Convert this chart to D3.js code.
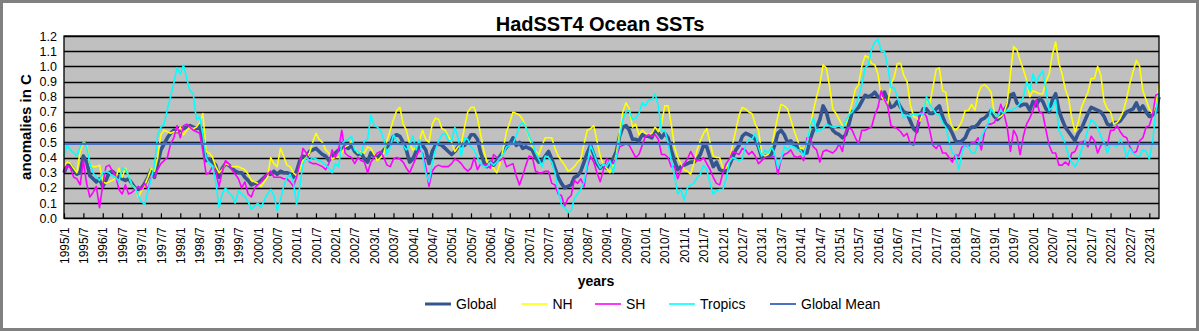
<!DOCTYPE html>
<html><head><meta charset="utf-8">
<script src="https://cdn.jsdelivr.net/npm/d3@7"></script>
<style>
body{margin:0;background:#fff;}
svg{display:block;font-family:"Liberation Sans",Arial,sans-serif;}
</style>
</head><body>
<svg id="c" width="1199" height="331"></svg>
<script>
// ---------- DATA ----------
const title = "HadSST4 Ocean SSTs";
const startYear = 1995;
const yTicks = [0.0,0.1,0.2,0.3,0.4,0.5,0.6,0.7,0.8,0.9,1.0,1.1,1.2];
const globalMean = 0.49;

const globalSST = [
0.30,0.35,0.35,0.32,0.29,0.30,0.41,0.37,0.28,0.26, 0.24,0.26,0.21,0.25,0.30,0.31,0.29,0.27,0.26,0.25,
0.26,0.23,0.20,0.19,0.20,0.23,0.27,0.32,0.27,0.36, 0.45,0.49,0.53,0.56,0.58,0.57,0.58,0.59,0.60,0.61,
0.60,0.59,0.61,
0.52,0.38,0.39,0.37,0.35,0.27,0.33,0.36,0.35,0.33, 0.31,0.30,0.30,0.27,0.25,0.22,0.23,0.23,0.25,0.27,
0.29,0.29,0.31,0.29,0.31,0.30,0.30,0.29,0.27,0.31, 0.38,0.41,0.40,0.44,0.45,0.46,0.44,0.42,0.41,0.38,
0.41,0.43,0.45,
0.46,0.47,0.46,0.48,0.44,0.42,0.43,0.39,0.37,0.43, 0.41,0.40,0.42,0.45,0.47,0.49,0.54,0.55,0.54,0.50,
0.45,0.37,0.39,0.44,0.47,0.48,0.45,0.36,0.44,0.48, 0.49,0.48,0.46,0.44,0.42,0.44,0.47,0.48,0.48,0.51,
0.55,
0.55,0.52,0.43,0.37,0.34,0.37,0.35,0.38,0.41,0.44, 0.47,0.49,0.53,0.48,0.50,0.46,0.47,0.46,0.45,0.40,
0.37,0.38,0.41,0.44,0.39,0.33,0.27,0.23,0.20,0.21, 0.22,0.27,0.28,0.31,0.37,0.43,0.48,0.42,0.36,0.33,
0.35,0.33,0.37,
0.39,0.44,0.54,0.60,0.61,0.58,0.52,0.52,0.51,0.55, 0.54,0.54,0.53,0.59,0.56,0.53,0.56,0.53,0.45,0.38,
0.32,0.34,0.35,0.36,0.37,0.37,0.39,0.42,0.48,0.47, 0.40,0.34,0.37,0.32,0.31,0.31,0.35,0.40,0.45,0.48,
0.54,0.56,
0.55,0.54,0.52,0.47,0.40,0.41,0.41,0.42,0.48,0.56, 0.58,0.55,0.50,0.51,0.48,0.48,0.45,0.43,0.43,0.52,
0.58,0.60,0.65,0.74,0.70,0.62,0.58,0.56,0.55,0.53, 0.55,0.62,0.70,0.71,0.73,0.77,0.81,0.80,0.81,0.83,
0.80,0.79,0.83,
0.78,0.73,0.74,0.77,0.73,0.70,0.69,0.64,0.59,0.57, 0.67,0.72,0.72,0.69,0.69,0.72,0.74,0.67,0.62,0.60,
0.56,0.51,0.50,0.51,0.53,0.58,0.60,0.60,0.62,0.65, 0.66,0.68,0.71,0.67,0.65,0.67,0.71,0.74,0.81,0.82,
0.76,0.74,
0.75,0.75,0.71,0.77,0.74,0.79,0.77,0.72,0.70,0.78, 0.82,0.71,0.65,0.60,0.57,0.54,0.51,0.56,0.59,0.64,
0.69,0.73,0.72,0.71,0.70,0.67,0.62,0.61,0.63,0.63, 0.64,0.67,0.70,0.71,0.72,0.76,0.71,0.74,0.70,0.67,
0.68,0.70,0.80
];

const nh = [
0.34,0.37,0.36,0.33,0.30,0.44,0.50,0.49,0.35,0.34, 0.34,0.35,0.24,0.23,0.24,0.25,0.26,0.33,0.27,0.33,
0.28,0.22,0.20,0.14,0.18,0.22,0.27,0.33,0.31,0.40, 0.55,0.58,0.57,0.56,0.57,0.57,0.60,0.55,0.58,0.60,
0.59,0.60,0.63,
0.69,0.44,0.43,0.40,0.34,0.30,0.32,0.36,0.35,0.34, 0.34,0.34,0.33,0.32,0.29,0.25,0.24,0.23,0.21,0.24,
0.27,0.40,0.36,0.34,0.46,0.41,0.35,0.34,0.30,0.28, 0.32,0.38,0.40,0.43,0.50,0.56,0.52,0.50,0.45,0.43,
0.39,0.40,0.40,
0.43,0.47,0.48,0.51,0.46,0.43,0.44,0.43,0.47,0.46, 0.42,0.38,0.40,0.43,0.51,0.58,0.65,0.71,0.73,0.62,
0.58,0.49,0.45,0.47,0.51,0.58,0.52,0.50,0.62,0.66, 0.65,0.59,0.58,0.54,0.50,0.44,0.47,0.49,0.60,0.70,
0.73,
0.73,0.66,0.55,0.44,0.37,0.34,0.33,0.30,0.36,0.46, 0.57,0.63,0.70,0.69,0.68,0.65,0.60,0.53,0.47,0.44,
0.42,0.48,0.53,0.53,0.53,0.46,0.41,0.38,0.35,0.31, 0.32,0.34,0.37,0.39,0.49,0.58,0.59,0.61,0.51,0.41,
0.35,0.33,0.30,
0.35,0.42,0.56,0.70,0.76,0.72,0.60,0.62,0.55,0.58, 0.56,0.55,0.56,0.60,0.57,0.62,0.74,0.74,0.62,0.47,
0.40,0.36,0.32,0.31,0.29,0.36,0.45,0.51,0.56,0.59, 0.50,0.41,0.40,0.40,0.33,0.33,0.37,0.49,0.58,0.68,
0.73,0.72,
0.70,0.69,0.62,0.58,0.43,0.41,0.42,0.47,0.57,0.67, 0.75,0.74,0.72,0.65,0.58,0.52,0.46,0.46,0.49,0.60,
0.71,0.80,0.88,1.01,0.99,0.87,0.72,0.69,0.65,0.61, 0.62,0.68,0.76,0.85,0.88,1.00,1.07,1.06,1.02,1.01,
0.95,0.80,0.78,
0.75,0.88,0.93,1.02,1.02,0.94,0.90,0.75,0.67,0.66, 0.64,0.70,0.78,0.75,0.86,0.98,0.99,0.84,0.83,0.67,
0.60,0.58,0.60,0.64,0.71,0.71,0.75,0.71,0.82,0.87, 0.88,0.86,0.83,0.69,0.66,0.67,0.69,0.76,0.95,1.13,
1.11,1.04,
0.98,0.91,0.80,0.84,0.83,0.82,0.82,0.90,0.95,1.08, 1.16,1.02,0.95,0.85,0.79,0.66,0.57,0.63,0.73,0.78,
0.83,0.92,0.92,1.00,0.94,0.77,0.72,0.70,0.62,0.63, 0.66,0.71,0.79,0.89,0.97,1.04,1.00,0.84,0.78,0.72,
0.69,0.75,0.88
];

const sh = [
0.30,0.35,0.33,0.27,0.26,0.22,0.38,0.23,0.14,0.17, 0.21,0.07,0.22,0.34,0.35,0.31,0.28,0.19,0.16,0.22,
0.16,0.17,0.19,0.21,0.19,0.23,0.19,0.27,0.27,0.32, 0.36,0.38,0.40,0.49,0.53,0.61,0.53,0.61,0.62,0.60,
0.58,0.57,0.56,
0.44,0.29,0.30,0.34,0.30,0.21,0.31,0.38,0.36,0.32, 0.29,0.26,0.20,0.24,0.16,0.14,0.20,0.22,0.24,0.27,
0.29,0.31,0.27,0.27,0.27,0.26,0.26,0.24,0.21,0.27, 0.36,0.46,0.43,0.37,0.36,0.36,0.35,0.34,0.32,0.36,
0.45,0.40,0.45,
0.58,0.43,0.41,0.40,0.36,0.40,0.38,0.37,0.30,0.37, 0.40,0.43,0.44,0.40,0.35,0.34,0.39,0.40,0.39,0.37,
0.33,0.30,0.35,0.40,0.45,0.43,0.34,0.21,0.31,0.34, 0.35,0.34,0.34,0.34,0.36,0.39,0.38,0.36,0.33,0.31,
0.33,
0.40,0.32,0.36,0.35,0.36,0.33,0.42,0.40,0.38,0.40, 0.34,0.35,0.36,0.28,0.22,0.28,0.35,0.41,0.40,0.31,
0.30,0.30,0.31,0.31,0.23,0.22,0.16,0.15,0.08,0.13, 0.15,0.25,0.23,0.26,0.21,0.34,0.41,0.37,0.30,0.24,
0.32,0.39,0.38,
0.36,0.40,0.47,0.48,0.49,0.48,0.44,0.40,0.42,0.48, 0.54,0.55,0.54,0.55,0.52,0.42,0.42,0.40,0.34,0.34,
0.26,0.32,0.36,0.39,0.44,0.40,0.38,0.38,0.40,0.36, 0.32,0.27,0.23,0.22,0.30,0.36,0.39,0.44,0.43,0.42,
0.46,0.45,
0.42,0.44,0.41,0.36,0.38,0.40,0.40,0.40,0.41,0.29, 0.39,0.42,0.43,0.45,0.41,0.40,0.41,0.38,0.53,0.53,
0.47,0.45,0.37,0.44,0.45,0.44,0.43,0.45,0.49,0.44, 0.57,0.60,0.58,0.53,0.49,0.58,0.58,0.59,0.60,0.68,
0.73,0.84,0.78,
0.74,0.61,0.60,0.59,0.57,0.54,0.56,0.49,0.48,0.58, 0.69,0.70,0.67,0.58,0.48,0.46,0.49,0.43,0.43,0.40,
0.37,0.42,0.41,0.47,0.48,0.47,0.50,0.50,0.53,0.45, 0.57,0.62,0.62,0.63,0.67,0.75,0.69,0.60,0.44,0.58,
0.54,0.42,
0.54,0.62,0.66,0.71,0.78,0.70,0.69,0.58,0.48,0.43, 0.43,0.35,0.35,0.37,0.35,0.43,0.44,0.49,0.50,0.51,
0.47,0.54,0.51,0.43,0.48,0.50,0.48,0.58,0.58,0.61, 0.57,0.54,0.53,0.47,0.43,0.44,0.51,0.53,0.60,0.61,
0.68,0.81,0.82
];

const tropics = [
0.41,0.48,0.45,0.43,0.41,0.47,0.50,0.47,0.36,0.30, 0.27,0.25,0.30,0.31,0.30,0.28,0.27,0.24,0.33,0.32,
0.28,0.22,0.20,0.15,0.11,0.09,0.18,0.26,0.35,0.55, 0.60,0.62,0.72,0.80,0.89,0.99,0.95,1.01,0.92,0.84,
0.82,0.65,0.67,
0.55,0.40,0.36,0.34,0.24,0.07,0.16,0.20,0.17,0.15, 0.10,0.18,0.16,0.14,0.11,0.06,0.08,0.10,0.07,0.12,
0.16,0.19,0.15,0.05,0.12,0.21,0.27,0.29,0.24,0.09, 0.21,0.36,0.40,0.38,0.40,0.39,0.38,0.37,0.35,0.33,
0.30,0.36,0.34,
0.49,0.51,0.52,0.54,0.45,0.44,0.42,0.51,0.52,0.68, 0.61,0.60,0.58,0.52,0.42,0.47,0.55,0.51,0.48,0.48,
0.45,0.48,0.54,0.45,0.52,0.41,0.30,0.24,0.36,0.45, 0.51,0.55,0.56,0.51,0.51,0.60,0.53,0.41,0.53,0.52,
0.47,
0.45,0.40,0.36,0.34,0.34,0.37,0.35,0.37,0.40,0.42, 0.47,0.48,0.49,0.54,0.61,0.63,0.60,0.54,0.50,0.43,
0.39,0.34,0.41,0.40,0.37,0.30,0.18,0.09,0.07,0.04, 0.05,0.13,0.16,0.19,0.24,0.36,0.48,0.43,0.37,0.33,
0.36,0.34,0.38,
0.30,0.40,0.53,0.65,0.70,0.71,0.65,0.66,0.69,0.76, 0.74,0.78,0.78,0.82,0.74,0.57,0.58,0.50,0.38,0.28,
0.16,0.19,0.12,0.20,0.22,0.23,0.27,0.29,0.35,0.32, 0.23,0.16,0.18,0.19,0.19,0.26,0.37,0.40,0.39,0.38,
0.39,0.48,
0.52,0.52,0.56,0.47,0.41,0.45,0.43,0.47,0.43,0.33, 0.39,0.47,0.45,0.48,0.47,0.45,0.45,0.41,0.50,0.60,
0.66,0.57,0.58,0.59,0.62,0.61,0.60,0.60,0.61,0.59, 0.64,0.68,0.70,0.73,0.80,0.88,0.99,1.01,1.11,1.16,
1.18,1.10,1.10,
1.00,0.86,0.86,0.80,0.72,0.66,0.68,0.67,0.69,0.68, 0.69,0.68,0.80,0.75,0.72,0.69,0.68,0.63,0.60,0.51,
0.43,0.42,0.32,0.43,0.49,0.47,0.43,0.43,0.49,0.54, 0.58,0.62,0.72,0.69,0.67,0.71,0.69,0.71,0.71,0.72,
0.73,0.76,
0.80,0.90,0.84,0.95,0.89,0.94,0.97,0.85,0.71,0.73, 0.78,0.58,0.54,0.49,0.41,0.37,0.34,0.38,0.45,0.50,
0.59,0.65,0.63,0.60,0.54,0.50,0.43,0.49,0.48,0.47, 0.52,0.48,0.40,0.46,0.43,0.41,0.41,0.45,0.44,0.39,
0.50,0.70,0.82
];

// month categories "YYYY/M"
const months = globalSST.map((_, i) => (startYear + Math.floor(i / 12)) + "/" + (i % 12 + 1));
const xTickLabels = months.filter((_, i) => i % 6 === 0);

const series = [
  {name: "Global", values: globalSST, color: "#34558E", width: 3.6},
  {name: "NH", values: nh, color: "#FFFF00", width: 1.6},
  {name: "SH", values: sh, color: "#FF00FF", width: 1.6},
  {name: "Tropics", values: tropics, color: "#00FFFF", width: 1.6}
];
const meanStyle = {name: "Global Mean", color: "#4A72C4", width: 2.4};

// ---------- CHART ----------
const svg = d3.select("#c");
const L = 64, R = 1159, T = 36, B = 218.3;

svg.append("rect").attr("x", 1.5).attr("y", 1.5).attr("width", 1196).attr("height", 328)
  .attr("fill", "#fff").attr("stroke", "#808080").attr("stroke-width", 3);

const x = d3.scalePoint().domain(months).range([L, R]);
const y = d3.scaleLinear().domain([0, 1.2]).range([B, T]);

svg.append("rect").attr("x", L).attr("y", T).attr("width", R - L).attr("height", B - T)
  .attr("fill", "#C0C0C0");

// gridlines
svg.append("g").selectAll("line").data(yTicks).join("line")
  .attr("x1", L).attr("x2", R).attr("y1", d => Math.round(y(d)) + 0.5).attr("y2", d => Math.round(y(d)) + 0.5)
  .attr("stroke", "#000").attr("stroke-width", 1.3);

// y axis
const yAxis = svg.append("g").attr("transform", `translate(${L},0)`)
  .call(d3.axisLeft(y).tickValues(yTicks).tickFormat(d3.format(".1f")).tickSize(0).tickPadding(7));
yAxis.select(".domain").remove();
yAxis.selectAll("text").attr("font-size", 12.5).attr("fill", "#000")
  .attr("font-family", "'Liberation Sans',Arial,sans-serif");

// x axis
const xAxis = svg.append("g").attr("transform", `translate(0,${B})`)
  .call(d3.axisBottom(x).tickValues(xTickLabels).tickSize(-5).tickSizeOuter(0));
xAxis.select(".domain").remove();
xAxis.selectAll(".tick line").attr("stroke", "#000").attr("stroke-width", 1.2);
xAxis.selectAll("text").attr("font-size", 12).attr("fill", "#000")
  .attr("font-family", "'Liberation Sans',Arial,sans-serif")
  .attr("text-anchor", "end").attr("transform", "rotate(-90)")
  .attr("x", -9).attr("y", 0).attr("dy", "0.35em");

// series lines
const line = d3.line().x((d, i) => x(months[i])).y(d => y(d));
series.forEach(s => {
  svg.append("path").datum(s.values).attr("d", line)
    .attr("fill", "none").attr("stroke", s.color).attr("stroke-width", s.width)
    .attr("stroke-linejoin", "round");
});
// global mean line
svg.append("line").attr("x1", x(months[0])).attr("x2", x(months[months.length - 1]))
  .attr("y1", y(globalMean)).attr("y2", y(globalMean))
  .attr("stroke", meanStyle.color).attr("stroke-width", meanStyle.width);

// plot border
svg.append("rect").attr("x", L).attr("y", T).attr("width", R - L).attr("height", B - T)
  .attr("fill", "none").attr("stroke", "#000").attr("stroke-width", 1.3);

// title
svg.append("text").attr("x", 600).attr("y", 31).attr("text-anchor", "middle")
  .attr("font-size", 20).attr("font-weight", "bold").text(title);

// axis titles
svg.append("text").attr("transform", "translate(31,127) rotate(-90)").attr("text-anchor", "middle")
  .attr("font-size", 15).attr("font-weight", "bold").text("anomalies in C");
svg.append("text").attr("x", 596).attr("y", 286).attr("text-anchor", "middle")
  .attr("font-size", 14).attr("font-weight", "bold").text("years");

// legend
const legendItems = [
  {name: "Global", color: series[0].color, width: 3, x: 425},
  {name: "NH", color: series[1].color, width: 1.6, x: 521.5},
  {name: "SH", color: series[2].color, width: 1.6, x: 595},
  {name: "Tropics", color: series[3].color, width: 1.6, x: 669},
  {name: "Global Mean", color: meanStyle.color, width: 2, x: 770}
];
const lg = svg.append("g");
legendItems.forEach(it => {
  lg.append("line").attr("x1", it.x).attr("x2", it.x + 26).attr("y1", 304).attr("y2", 304)
    .attr("stroke", it.color).attr("stroke-width", it.width);
  lg.append("text").attr("x", it.x + 31).attr("y", 309).attr("font-size", 14).attr("fill", "#000").text(it.name);
});
</script>
</body></html>
